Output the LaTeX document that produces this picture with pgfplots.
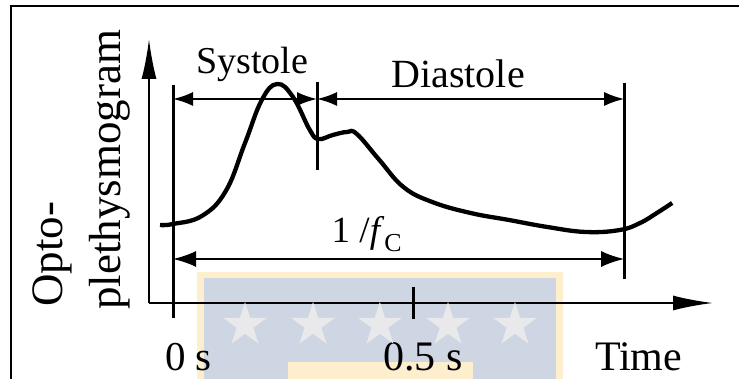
\documentclass[border=0pt]{standalone}
\usepackage{pgfplots}
\pgfplotsset{compat=1.18}
\usepackage{fontspec}
\setmainfont{Liberation Serif}
\usetikzlibrary{arrows.meta}
\definecolor{wmblue}{RGB}{205,214,226}
\definecolor{wmyellow}{RGB}{253,238,206}
\definecolor{wmstar}{RGB}{233,233,235}
\pgfdeclareplotmark{fstar}{%
  \pgfpathmoveto{\pgfpointpolar{90}{\pgfplotmarksize}}%
  \pgfpathlineto{\pgfpointpolar{126}{0.382\pgfplotmarksize}}%
  \pgfpathlineto{\pgfpointpolar{162}{\pgfplotmarksize}}%
  \pgfpathlineto{\pgfpointpolar{198}{0.382\pgfplotmarksize}}%
  \pgfpathlineto{\pgfpointpolar{234}{\pgfplotmarksize}}%
  \pgfpathlineto{\pgfpointpolar{270}{0.382\pgfplotmarksize}}%
  \pgfpathlineto{\pgfpointpolar{306}{\pgfplotmarksize}}%
  \pgfpathlineto{\pgfpointpolar{342}{0.382\pgfplotmarksize}}%
  \pgfpathlineto{\pgfpointpolar{18}{\pgfplotmarksize}}%
  \pgfpathlineto{\pgfpointpolar{54}{0.382\pgfplotmarksize}}%
  \pgfpathclose
  \pgfusepathqfill}
\begin{document}
\begin{tikzpicture}
\useasboundingbox (0,0) rectangle (739pt,379pt);
\begin{axis}[at={(0,0)}, anchor=south west, scale only axis,
  width=739pt, height=379pt,
  xmin=-0.360417, xmax=1.179167, ymin=-76, ymax=303,
  hide axis, clip=false]
% watermark background
\fill[wmyellow] (axis cs:0.05,-90) rectangle (axis cs:0.8125,31);
\fill[wmblue] (axis cs:0.0646,-90) rectangle (axis cs:0.798,25);
\fill[wmyellow] (axis cs:0.2396,-90) rectangle (axis cs:0.625,-59);
\addplot[only marks, mark=fstar, mark size=23pt, fill=wmstar, draw=none]
  coordinates {(0.15,-22) (0.2917,-22) (0.431,-22) (0.573,-22) (0.7125,-22)};
% frame
\draw[line width=2pt] (axis cs:-0.3375,-90) -- (axis cs:-0.3375,297) -- (axis cs:1.2,297);
% axes
\draw[line width=2pt, -{Latex[length=40pt,width=15pt]}] (axis cs:-0.05,0) -- (axis cs:-0.05,264);
\draw[line width=2pt, -{Latex[length=40pt,width=15pt]}] (axis cs:-0.05,0) -- (axis cs:1.125,0);
% markers
\draw[line width=3pt] (axis cs:0,218) -- (axis cs:0,-15);
\draw[line width=3pt] (axis cs:0.3,221) -- (axis cs:0.3,133);
\draw[line width=3pt] (axis cs:0.94,220) -- (axis cs:0.94,24);
\draw[line width=3pt] (axis cs:0.5,16) -- (axis cs:0.5,-16);
% dimension arrows
\draw[line width=2pt, {Latex[length=20pt,width=14pt]}-{Latex[length=20pt,width=14pt]}] (axis cs:0,204) -- (axis cs:0.3,204);
\draw[line width=2pt, {Latex[length=20pt,width=14pt]}-{Latex[length=20pt,width=14pt]}] (axis cs:0.3,204) -- (axis cs:0.94,204);
\draw[line width=2pt, {Latex[length=23pt,width=16pt]}-{Latex[length=23pt,width=16pt]}] (axis cs:0,44) -- (axis cs:0.94,44);
% waveform
\addplot[line width=4.3pt, smooth, tension=0.7, black] coordinates {
(-0.027,78) (0,79) (0.06,87) (0.11,112) (0.15,160) (0.185,203)
(0.217,219) (0.25,206) (0.285,173) (0.303,164) (0.333,168) (0.3625,171)
(0.383,169) (0.43,143) (0.48,116) (0.54,101) (0.62,90) (0.70,83)
(0.78,76) (0.86,71) (0.931,73) (0.973,80) (1.008,90) (1.040,100)};
% labels
\node[anchor=base, inner sep=0, font=\fontsize{38}{46}\selectfont] at (axis cs:0.165,229) {Systole};
\node[anchor=base, inner sep=0, font=\fontsize{40}{48}\selectfont] at (axis cs:0.594,215) {Diastole};
\node[anchor=base, inner sep=0, font=\fontsize{37}{44}\selectfont] at (axis cs:0.404,60) {1 /\textit{f}\textsubscript{C}};
\node[anchor=base west, inner sep=0, font=\fontsize{41}{48}\selectfont] at (axis cs:-0.0167,-68) {0~s};
\node[anchor=base west, inner sep=0, font=\fontsize{42}{48}\selectfont] at (axis cs:0.4375,-68) {0.5 s};
\node[anchor=base west, inner sep=0, font=\fontsize{42}{48}\selectfont] at (axis cs:0.879,-68) {Time};
\node[anchor=base west, inner sep=0, rotate=90, font=\fontsize{45}{54}\selectfont] at (axis cs:-0.23125,-4) {Opto-};
\node[anchor=base west, inner sep=0, rotate=90, font=\fontsize{45}{54}\selectfont] at (axis cs:-0.1104,-7) {plethysmogram};
\end{axis}
\end{tikzpicture}
\end{document}
